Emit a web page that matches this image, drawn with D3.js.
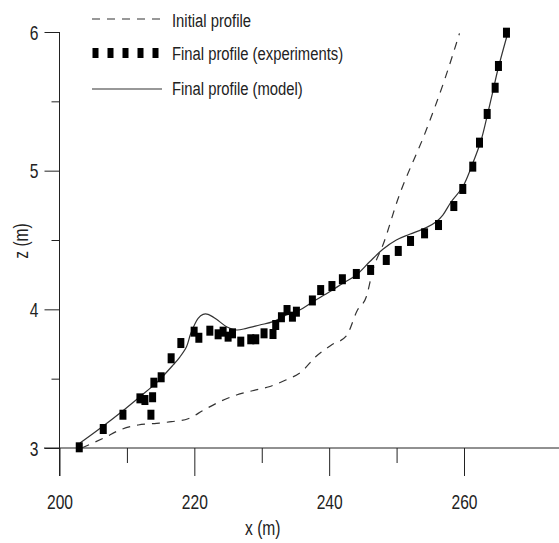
<!DOCTYPE html>
<html><head><meta charset="utf-8">
<script src="https://cdn.jsdelivr.net/npm/d3@7"></script>
<style>
html,body{margin:0;padding:0;background:#fff;}
svg{display:block;}
text{font-family:"Liberation Sans",Arial,sans-serif;fill:#222;}
</style></head>
<body>
<svg id="chart" width="559" height="543"></svg>
<script>
// ---- data ----
const xMajorTicks = [200, 220, 240, 260];
const xMinorTicks = [210, 230, 250];
const yMajorTicks = [3, 4, 5, 6];
const yMinorTicks = [3.5, 4.5, 5.5];

const expX = [202.93,206.49,209.41,211.93,212.67,213.81,213.56,214.0,215.08,216.56,218.0,219.97,220.67,222.30,223.53,224.27,225.01,225.66,226.89,228.37,229.11,230.34,231.67,232.07,232.92,233.75,234.55,235.14,237.51,238.74,240.41,241.96,244.03,246.15,248.47,250.25,252.07,254.15,256.22,258.49,259.82,261.30,262.30,263.44,264.62,265.11,266.30];
const expZ = [3.005,3.137,3.240,3.358,3.346,3.366,3.240,3.471,3.510,3.647,3.757,3.839,3.795,3.846,3.820,3.839,3.803,3.827,3.767,3.784,3.784,3.827,3.822,3.887,3.943,3.995,3.947,3.983,4.064,4.139,4.168,4.217,4.255,4.284,4.356,4.421,4.493,4.548,4.608,4.745,4.868,5.029,5.202,5.409,5.598,5.755,5.995];

const modelX = [203.04,206.49,209.41,211.93,214.40,216.86,217.85,218.84,219.48,220.56,221.30,222.04,223.29,224.77,226.25,227.73,229.70,231.67,233.66,235.63,237.60,240.07,242.04,244.03,246.0,247.97,249.96,251.93,254.40,255.88,256.86,258.10,259.82,261.30,262.55,263.53,264.27,265.01,266.34];
const modelZ = [3.036,3.159,3.269,3.370,3.471,3.599,3.656,3.730,3.827,3.935,3.964,3.964,3.928,3.875,3.851,3.863,3.887,3.911,3.959,3.995,4.055,4.127,4.188,4.248,4.343,4.433,4.500,4.541,4.589,4.632,4.680,4.776,4.884,5.053,5.221,5.414,5.569,5.726,5.966];

const initX = [203.3,206.49,209.21,211.67,214.40,216.62,219.08,221.41,223.78,226.25,228.62,231.08,233.56,235.88,238.0,240.33,242.55,244.2,245.51,246.49,248.07,250.15,254.40,257.11,259.33];
const initZ = [3.0,3.070,3.135,3.166,3.178,3.190,3.211,3.274,3.334,3.382,3.413,3.442,3.490,3.550,3.658,3.743,3.808,3.995,4.091,4.284,4.476,4.788,5.293,5.654,5.990];

const legendLabels = ["Initial profile", "Final profile (experiments)", "Final profile (model)"];
const xTitle = "x (m)", yTitle = "z (m)";

// ---- layout ----
const svg = d3.select("#chart");
const x = d3.scaleLinear().domain([200, 260]).range([59.5, 464]);
const y = d3.scaleLinear().domain([3, 6]).range([448, 32]);
const ink = "#222";
const SX = 0.78;

function squeeze(sel){
  sel.each(function(){
    const t = d3.select(this);
    const tx = +t.attr("x") || 0, ty = +t.attr("y") || 0;
    t.attr("x", 0).attr("y", 0).attr("transform", `translate(${tx},${ty}) scale(${SX},1)`);
  });
}

// axes
const gx = svg.append("g").attr("transform", "translate(0,448)");
gx.append("g").call(d3.axisBottom(x).tickValues(xMinorTicks).tickSize(15).tickFormat(""))
  .call(g => g.select(".domain").remove());
const gxMaj = gx.append("g").call(d3.axisBottom(x).tickValues(xMajorTicks).tickSize(28).tickPadding(8).tickFormat(d3.format("d")));
gxMaj.select(".domain").remove();
gxMaj.selectAll("text").attr("dy", null).attr("y", 61).style("font-size", "20px").style("fill", ink).call(squeeze);
gx.selectAll("line").attr("stroke", ink);

const gy = svg.append("g").attr("transform", "translate(59.5,0)");
gy.append("g").call(d3.axisLeft(y).tickValues(yMinorTicks).tickSize(8).tickFormat(""))
  .call(g => g.select(".domain").remove());
const gyMaj = gy.append("g").call(d3.axisLeft(y).tickValues(yMajorTicks).tickSize(15).tickPadding(6).tickFormat(d3.format("d")));
gyMaj.select(".domain").remove();
gyMaj.selectAll("text").attr("dy", "0.36em").style("font-size", "20px").style("fill", ink).call(squeeze);
gy.selectAll("line").attr("stroke", ink);

// axis lines
svg.append("line").attr("x1", 44).attr("x2", 559).attr("y1", 448).attr("y2", 448).attr("stroke", ink);
svg.append("line").attr("x1", 59.5).attr("x2", 59.5).attr("y1", 32).attr("y2", 476).attr("stroke", ink);

// axis titles
svg.append("text").attr("text-anchor", "middle")
  .attr("transform", `translate(${x(230) + 1},535) scale(${SX},1)`).style("font-size", "20px").text(xTitle);
svg.append("text").attr("text-anchor", "middle")
  .attr("transform", `translate(28,241) rotate(-90) scale(${SX},1)`).style("font-size", "20px").text(yTitle);

// initial profile (dashed)
const initData = initX.map((d, i) => [d, initZ[i]]);
svg.append("path").datum(initData)
  .attr("d", d3.line().x(d => x(d[0])).y(d => y(d[1])).curve(d3.curveMonotoneX))
  .attr("fill", "none").attr("stroke", "#333").attr("stroke-width", 1.2).attr("stroke-dasharray", "8,7");

// model (solid)
const modelData = modelX.map((d, i) => [d, modelZ[i]]);
svg.append("path").datum(modelData)
  .attr("d", d3.line().x(d => x(d[0])).y(d => y(d[1])).curve(d3.curveCatmullRom.alpha(0.5)))
  .attr("fill", "none").attr("stroke", "#333").attr("stroke-width", 1.2);

// experiments (squares)
const expData = expX.map((d, i) => [d, expZ[i]]);
svg.append("g").selectAll("rect").data(expData).join("rect")
  .attr("x", d => x(d[0]) - 3.5).attr("y", d => y(d[1]) - 5)
  .attr("width", 7).attr("height", 10).attr("fill", "#000");

// legend
const lg = svg.append("g");
lg.append("line").attr("x1", 92).attr("x2", 163).attr("y1", 19).attr("y2", 19)
  .attr("stroke", "#333").attr("stroke-width", 1.2).attr("stroke-dasharray", "8,7");
lg.selectAll("rect").data([95, 110, 125, 140, 155]).join("rect")
  .attr("x", d => d - 2.5).attr("y", 48).attr("width", 6).attr("height", 10).attr("fill", "#000");
lg.append("line").attr("x1", 92).attr("x2", 162).attr("y1", 89).attr("y2", 89)
  .attr("stroke", "#333").attr("stroke-width", 1.2);
[27, 60, 95].forEach((yy, i) => {
  lg.append("text").attr("transform", `translate(172,${yy}) scale(${SX},1)`)
    .style("font-size", "19px").text(legendLabels[i]);
});
</script>
</body></html>
